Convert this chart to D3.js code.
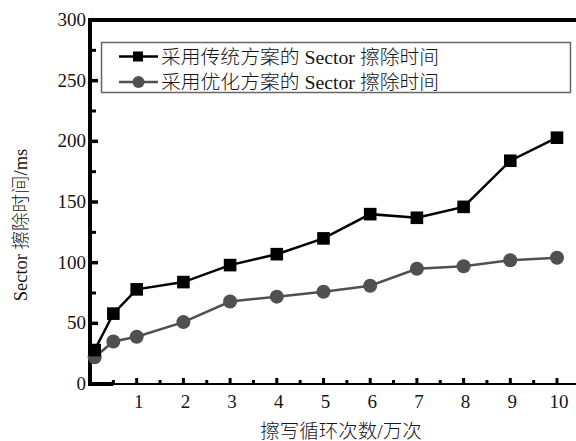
<!DOCTYPE html>
<html>
<head>
<meta charset="utf-8">
<script src="https://cdn.jsdelivr.net/npm/d3@7"></script>
<style>
  html, body { margin: 0; padding: 0; background: #fff; }
  svg { display: block; }
  text { font-family: "Liberation Serif", "Noto Sans CJK SC", serif; fill: #151515; }
  .cjk { font-family: "Liberation Serif", "Noto Sans CJK SC", serif; font-weight: 300; }
</style>
</head>
<body>
<svg id="chart" width="576" height="441"></svg>
<script>
// Erase/write cycles (×10^4) and sector erase time (ms)
const cycles      = [0.1, 0.5, 1, 2, 3, 4, 5, 6, 7, 8, 9, 10];
const traditional = [28, 58, 78, 84, 98, 107, 120, 140, 137, 146, 184, 203];
const optimized   = [22, 35, 39, 51, 68, 72, 76, 81, 95, 97, 102, 104];

const xTicks      = [1, 2, 3, 4, 5, 6, 7, 8, 9, 10];
const xMinorTicks = [0.5, 1.5, 2.5, 3.5, 4.5, 5.5, 6.5, 7.5, 8.5, 9.5];
const yTicks      = [0, 50, 100, 150, 200, 250, 300];
const yMinorTicks = [25, 75, 125, 175, 225, 275];

const seriesNames = ["采用传统方案的 Sector 擦除时间", "采用优化方案的 Sector 擦除时间"];
const xTitle = "擦写循环次数/万次";
const yTitle = "Sector 擦除时间/ms";

const svg = d3.select("#chart");
const x = d3.scaleLinear().domain([0, 10]).range([90, 557]);
const y = d3.scaleLinear().domain([0, 300]).range([384, 20]);

const black = "#000";
const gray = "#505050";

// x axis: major and minor ticks pointing into the plot
const xAxis = svg.append("g").attr("transform", `translate(0,${y(0)})`);
xAxis.append("line").attr("x1", x(0)).attr("x2", 576).attr("y1", 0).attr("y2", 0)
  .attr("stroke", black).attr("stroke-width", 2.2);
xAxis.append("line").attr("x1", x(0) - 2).attr("x2", x(0.5)).attr("y1", 0).attr("y2", 0)
  .attr("stroke", black).attr("stroke-width", 4);
xAxis.selectAll(".xmaj").data(xTicks).join("line")
  .attr("x1", d => x(d)).attr("x2", d => x(d)).attr("y1", 0).attr("y2", -6)
  .attr("stroke", black).attr("stroke-width", 3);
xAxis.selectAll(".xmin").data(xMinorTicks).join("line")
  .attr("x1", d => x(d)).attr("x2", d => x(d)).attr("y1", 0).attr("y2", -4)
  .attr("stroke", black).attr("stroke-width", 3);
xAxis.selectAll(".xlab").data(xTicks).join("text")
  .attr("x", d => x(d) + 2).attr("y", 24)
  .attr("text-anchor", "middle").attr("font-size", 19)
  .text(d => d);

// y axis
const yAxis = svg.append("g").attr("transform", `translate(${x(0)},0)`);
yAxis.append("line").attr("x1", 0).attr("x2", 0).attr("y1", y(300) - 2).attr("y2", y(0) + 1)
  .attr("stroke", black).attr("stroke-width", 4);
yAxis.selectAll(".ymaj").data(yTicks.filter(d => d > 0 && d < 300)).join("line")
  .attr("x1", 0).attr("x2", 8).attr("y1", d => y(d)).attr("y2", d => y(d))
  .attr("stroke", black).attr("stroke-width", 3.5);
yAxis.selectAll(".ymin").data(yMinorTicks).join("line")
  .attr("x1", 0).attr("x2", 6).attr("y1", d => y(d)).attr("y2", d => y(d))
  .attr("stroke", black).attr("stroke-width", 3);
yAxis.selectAll(".ylab").data(yTicks).join("text")
  .attr("x", -4).attr("y", d => y(d) + 6)
  .attr("text-anchor", "end").attr("font-size", 19)
  .text(d => d);

// top frame line
svg.append("line").attr("x1", x(0) - 2).attr("x2", 576).attr("y1", y(300)).attr("y2", y(300))
  .attr("stroke", black).attr("stroke-width", 4);

// axis titles
svg.append("text").attr("class", "cjk")
  .attr("x", 341).attr("y", 438).attr("text-anchor", "middle").attr("font-size", 19.5)
  .text(xTitle);
svg.append("text").attr("class", "cjk")
  .attr("transform", `translate(27,225) rotate(-90)`)
  .attr("text-anchor", "middle").attr("font-size", 18.5)
  .text(yTitle);

// series lines and markers
const line = d3.line().x((d, i) => x(cycles[i])).y(d => y(d));

svg.append("path").datum(optimized).attr("d", line)
  .attr("fill", "none").attr("stroke", gray).attr("stroke-width", 2.5);
svg.selectAll(".opt").data(optimized).join("circle")
  .attr("cx", (d, i) => x(cycles[i])).attr("cy", d => y(d)).attr("r", 7)
  .attr("fill", gray);

svg.append("path").datum(traditional).attr("d", line)
  .attr("fill", "none").attr("stroke", black).attr("stroke-width", 2.5);
svg.selectAll(".trad").data(traditional).join("rect")
  .attr("x", (d, i) => x(cycles[i]) - 6.3).attr("y", d => y(d) - 6.3)
  .attr("width", 12.6).attr("height", 12.6).attr("fill", black);

// legend
const legend = svg.append("g");
legend.append("rect").attr("x", 101.5).attr("y", 42.5).attr("width", 469).attr("height", 50)
  .attr("fill", "#fff").attr("stroke", "#666").attr("stroke-width", 1.5);
const rows = [
  { name: seriesNames[0], color: black, shape: "square", cy: 56.5 },
  { name: seriesNames[1], color: gray, shape: "circle", cy: 82 }
];
rows.forEach(r => {
  legend.append("line").attr("x1", 119).attr("x2", 158).attr("y1", r.cy).attr("y2", r.cy)
    .attr("stroke", r.color).attr("stroke-width", 2.5);
  if (r.shape === "square") {
    legend.append("rect").attr("x", 133).attr("y", r.cy - 5).attr("width", 10).attr("height", 10)
      .attr("fill", r.color);
  } else {
    legend.append("circle").attr("cx", 138.5).attr("cy", r.cy).attr("r", 6).attr("fill", r.color);
  }
  legend.append("text").attr("class", "cjk")
    .attr("x", 161).attr("y", r.cy + 7).attr("font-size", 19.8)
    .text(r.name);
});
</script>
</body>
</html>
